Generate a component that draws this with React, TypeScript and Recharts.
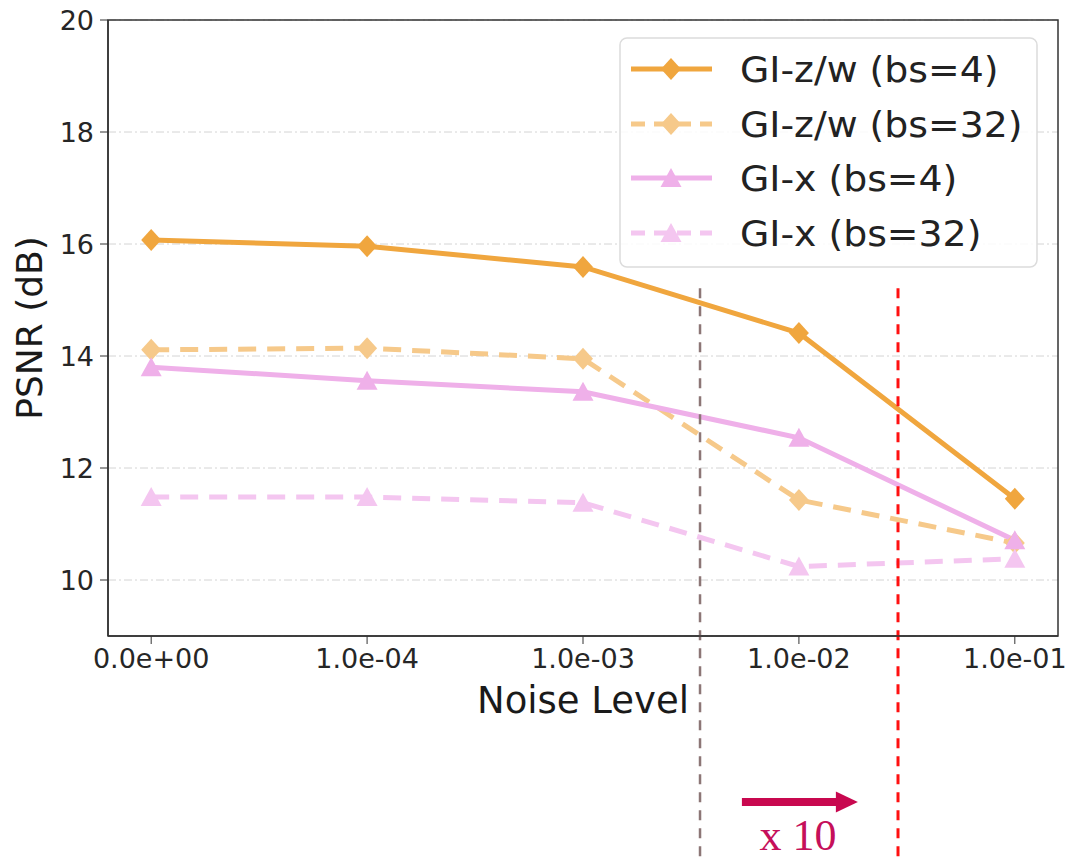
import React from "react";
import {
  LineChart,
  Line,
  XAxis,
  YAxis,
  CartesianGrid,
  Legend,
  ReferenceLine,
  ReferenceArea,
  Label,
} from "recharts";

// ---- data ----
const categories = ["0.0e+00", "1.0e-04", "1.0e-03", "1.0e-02", "1.0e-01"];
const noiseIndex = [0, 1, 2, 3, 4];
const gizwBs4 = [16.07, 15.96, 15.59, 14.41, 11.45];
const gizwBs32 = [14.11, 14.14, 13.95, 11.43, 10.66];
const gixBs4 = [13.8, 13.56, 13.36, 12.54, 10.71];
const gixBs32 = [11.48, 11.48, 11.38, 10.24, 10.38];
const yTicks = [10, 12, 14, 16, 18, 20];

// annotation positions in data units
const greyMarkX = 2.542;
const redMarkX = 3.459;
const markTopY = 15.21;
const markBottomY = 4.96;
const arrowStartX = 2.736;
const arrowEndX = 3.273;
const arrowY = 6.036;
const arrowText = "x 10";

const data = noiseIndex.map((x, i) => ({
  x,
  gizw4: gizwBs4[i],
  gizw32: gizwBs32[i],
  gix4: gixBs4[i],
  gix32: gixBs32[i],
}));

type Series = {
  key: string;
  name: string;
  color: string;
  dash?: string;
  marker: "diamond" | "triangle";
};

const series: Series[] = [
  { key: "gizw4", name: "GI-z/w (bs=4)", color: "#f0a63e", marker: "diamond" },
  { key: "gizw32", name: "GI-z/w (bs=32)", color: "#f6c98a", dash: "18 11", marker: "diamond" },
  { key: "gix4", name: "GI-x (bs=4)", color: "#efb0e9", marker: "triangle" },
  { key: "gix32", name: "GI-x (bs=32)", color: "#f4c6f0", dash: "18 11", marker: "triangle" },
];

const FONT = "DejaVu Sans";

function marker(kind: "diamond" | "triangle", cx: number, cy: number, fill: string, key?: any) {
  if (kind === "diamond") {
    return (
      <polygon
        key={key}
        points={`${cx},${cy - 11} ${cx + 10},${cy} ${cx},${cy + 11} ${cx - 10},${cy}`}
        fill={fill}
      />
    );
  }
  return (
    <polygon
      key={key}
      points={`${cx},${cy - 10} ${cx + 10.5},${cy + 9} ${cx - 10.5},${cy + 9}`}
      fill={fill}
    />
  );
}

const LegendBox = () => {
  const rows = [32, 87, 141, 196];
  return (
    <svg width={420} height={232} style={{ display: "block" }}>
      <rect x={1} y={1} width={417} height={229} rx={7} ry={7} fill="#ffffff" fillOpacity={0.85} stroke="#dcdcdc" strokeWidth={1.5} />
      {series.map((s, i) => (
        <g key={s.key}>
          <line x1={12} x2={93} y1={rows[i]} y2={rows[i]} stroke={s.color} strokeWidth={5} strokeDasharray={s.dash ? "14 9" : undefined} />
          {marker(s.marker, 52, rows[i], s.color)}
          <text x={121} y={rows[i] + 13} fontFamily={FONT} fontSize={36} fill="#222" transform={`translate(121 0) scale(1.05 1) translate(-121 0)`}>
            {s.name}
          </text>
        </g>
      ))}
    </svg>
  );
};

const ArrowShape = (p: any) => {
  const { x1, y1, x2 } = p;
  const headLen = 22;
  return (
    <g>
      <line x1={x1} y1={y1} x2={x2 - headLen + 1} y2={y1} stroke="#c8084f" strokeWidth={8} />
      <polygon points={`${x2},${y1} ${x2 - headLen},${y1 - 10.5} ${x2 - headLen},${y1 + 10.5}`} fill="#c8084f" />
      <text
        x={(x1 + x2) / 2 - 2}
        y={y1 + 48}
        textAnchor="middle"
        fontFamily="Liberation Serif"
        fontSize={44}
        fill="#c5105a"
      >
        {arrowText}
      </text>
    </g>
  );
};

export default function App() {
  return (
    <div style={{ position: "absolute", left: 0, top: 0, width: 1071, height: 862, background: "#fff" }}>
      <LineChart
        width={1071}
        height={862}
        data={data}
        margin={{ top: 20, right: 13, bottom: 146, left: 48 }}
      >
        <CartesianGrid vertical={false} stroke="#d4d4d4" strokeDasharray="8 3 2 3" strokeWidth={1} />
        <XAxis
          dataKey="x"
          type="number"
          domain={[-0.2, 4.2]}
          ticks={noiseIndex}
          allowDataOverflow
          tickFormatter={(v: number) => categories[v]}
          tick={{ fontSize: 27, fill: "#262626", fontFamily: FONT }}
          tickLine={{ stroke: "#333" }}
          axisLine={{ stroke: "#333", strokeWidth: 1.5 }}
          tickSize={8}
          tickMargin={5}
          height={80}
        >
          <Label
            value="Noise Level"
            position="insideBottom"
            offset={3}
            style={{ fontSize: 37, fill: "#1a1a1a", fontFamily: FONT }}
          />
        </XAxis>
        <YAxis
          type="number"
          domain={[9, 20]}
          ticks={yTicks}
          allowDataOverflow
          tick={{ fontSize: 27, fill: "#262626", fontFamily: FONT }}
          tickLine={{ stroke: "#333" }}
          axisLine={{ stroke: "#333", strokeWidth: 1.5 }}
          tickSize={8}
          tickMargin={6}
          width={60}
        >
          <Label
            content={(props: any) => {
              const vb = props.viewBox || { x: 48, y: 20, width: 60, height: 616 };
              const tx = vb.x - 6;
              const ty = vb.y + vb.height / 2;
              return (
                <text
                  x={tx}
                  y={ty}
                  transform={`rotate(-90 ${tx} ${ty})`}
                  textAnchor="middle"
                  fontFamily={FONT}
                  fontSize={36}
                  fill="#1a1a1a"
                >
                  PSNR (dB)
                </text>
              );
            }}
          />
        </YAxis>
        <Legend
          layout="vertical"
          align="center"
          verticalAlign="middle"
          wrapperStyle={{ position: "absolute", left: 619, top: 37, width: 420, height: 232 }}
          content={() => <LegendBox />}
        />
        {series.map((s) => (
          <Line
            key={s.key}
            type="linear"
            dataKey={s.key}
            name={s.name}
            stroke={s.color}
            strokeWidth={5}
            strokeDasharray={s.dash}
            isAnimationActive={false}
            dot={(p: any) => marker(s.marker, p.cx, p.cy, s.color, `${s.key}-${p.index}`)}
            activeDot={false}
          />
        ))}
        <ReferenceArea x1={-0.2} x2={4.2} y1={9} y2={20} fill="none" stroke="#333" strokeWidth={1.5} ifOverflow="visible" />
        <ReferenceLine
          segment={[{ x: greyMarkX, y: markTopY }, { x: greyMarkX, y: markBottomY }]}
          stroke="#8c7676"
          strokeWidth={2.5}
          strokeDasharray="10 8"
          ifOverflow="visible"
        />
        <ReferenceLine
          segment={[{ x: redMarkX, y: markTopY }, { x: redMarkX, y: markBottomY }]}
          stroke="#ff1010"
          strokeWidth={3}
          strokeDasharray="10 8"
          ifOverflow="visible"
        />
        <ReferenceLine
          segment={[{ x: arrowStartX, y: arrowY }, { x: arrowEndX, y: arrowY }]}
          ifOverflow="visible"
          shape={ArrowShape}
        />
      </LineChart>
    </div>
  );
}
